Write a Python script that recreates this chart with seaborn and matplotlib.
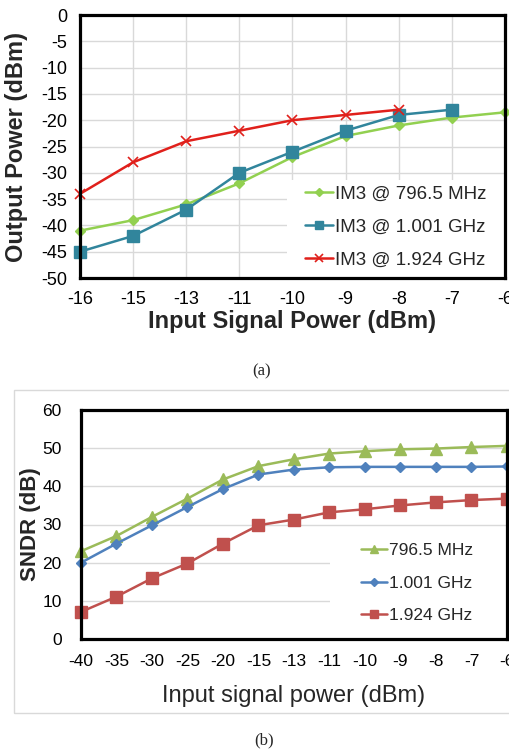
import numpy as np
import pandas as pd
import matplotlib
matplotlib.use("Agg")
import matplotlib.pyplot as plt
import matplotlib.patches as mpatches
import seaborn as sns

# ── Data ─────────────────────────────────────────────────────────────────────
# (a) third-order intermod output vs input power
in_a = [-16, -15, -13, -11, -10, -9, -8, -7, -6]
im3_796 = [-41, -39, -36, -32, -27, -23, -21, -19.5, -18.5]
im3_1001 = [-45, -42, -37, -30, -26, -22, -19, -18, np.nan]
im3_1924 = [-34, -28, -24, -22, -20, -19, -18, np.nan, np.nan]
yticks_a = list(range(-50, 1, 5))

# (b) SNDR vs input power
in_b = [-40, -35, -30, -25, -20, -15, -13, -11, -10, -9, -8, -7, -6]
sndr_796 = [23, 27, 32, 36.8, 41.8, 45.3, 47.1, 48.6, 49.2, 49.7, 49.9, 50.3, 50.6]
sndr_1001 = [20, 25, 29.8, 34.6, 39.3, 43.1, 44.4, 45, 45.1, 45.1, 45.1, 45.1, 45.2]
sndr_1924 = [7.1, 11.1, 15.9, 19.8, 25, 29.8, 31.3, 33.2, 34, 35, 35.8, 36.4, 36.8]
yticks_b = list(range(0, 61, 10))

# ── Style ────────────────────────────────────────────────────────────────────
sns.set_theme(style="white")
plt.rcParams["font.family"] = ["Liberation Sans", "DejaVu Sans"]
plt.rcParams["axes.unicode_minus"] = False   # plain hyphen minus, like Excel
GRID = "#d9d9d9"

fig = plt.figure(figsize=(5.10, 7.52), dpi=100)
ax1 = fig.add_axes([80 / 510, 1 - 278 / 752, 425 / 510, 263 / 752])
ax2 = fig.add_axes([81 / 510, 1 - 639 / 752, 426 / 510, 229 / 752])


def draw_series(ax, cats, vals, label, color, marker, ms, mew=1.0):
    df = pd.DataFrame({"pos": np.arange(len(cats)), "val": vals}).dropna()
    sns.lineplot(data=df, x="pos", y="val", ax=ax, color=color, marker=marker,
                 markersize=ms, markeredgecolor=color, markeredgewidth=mew,
                 linewidth=1.8, label=label, clip_on=False, zorder=3)


def frame(ax):
    for s in ax.spines.values():
        s.set_visible(True)
        s.set_color("black")
        s.set_linewidth(2.3)
        s.set_zorder(4)


# ── Panel (a) ────────────────────────────────────────────────────────────────
draw_series(ax1, in_a, im3_796, "IM3 @ 796.5 MHz", "#92d050", "D", 5)
draw_series(ax1, in_a, im3_1001, "IM3 @ 1.001 GHz", "#31859c", "s", 8)
draw_series(ax1, in_a, im3_1924, "IM3 @ 1.924 GHz", "#e0201b", "x", 7, 1.2)

ax1.set_xlim(0, len(in_a) - 1)
ax1.set_ylim(-50, 0)
ax1.set_xticks(np.arange(len(in_a)))
ax1.set_xticklabels([str(v) for v in in_a])
ax1.set_yticks(yticks_a)
ax1.grid(True, color=GRID, linewidth=1)
ax1.set_axisbelow(True)
ax1.tick_params(axis="both", labelsize=13, colors="black", length=3, width=1,
                direction="out", pad=6)
ax1.tick_params(axis="x", length=0, pad=9)
frame(ax1)
ax1.set_xlabel("Input Signal Power (dBm)", fontsize=17, fontweight="bold")
ax1.set_ylabel("Output Power (dBm)", fontsize=17, fontweight="bold")
ax1.xaxis.set_label_coords(0.5, -0.12)
ax1.yaxis.set_label_coords(-0.122, 0.5)

ax1.add_patch(mpatches.Rectangle((207 / 425, 0), 1, 98 / 263, transform=ax1.transAxes,
                                 facecolor="white", edgecolor="none", zorder=1.5))
ax1.legend(loc="center left", bbox_to_anchor=(225 / 425, 51 / 263), frameon=False,
           fontsize=13.5, handlelength=1.5, handletextpad=0.1, labelspacing=0.85,
           borderpad=0, borderaxespad=0, markerscale=0.8)

# ── Panel (b) ────────────────────────────────────────────────────────────────
draw_series(ax2, in_b, sndr_796, "796.5 MHz", "#9bbb59", "^", 8)
draw_series(ax2, in_b, sndr_1001, "1.001 GHz", "#4f81bd", "D", 5)
draw_series(ax2, in_b, sndr_1924, "1.924 GHz", "#c0504d", "s", 8)

ax2.set_xlim(0, len(in_b) - 1)
ax2.set_ylim(0, 60)
ax2.set_xticks(np.arange(len(in_b)))
ax2.set_xticklabels([str(v) for v in in_b])
ax2.set_yticks(yticks_b)
ax2.grid(True, axis="y", color=GRID, linewidth=1)
ax2.set_axisbelow(True)
ax2.tick_params(axis="both", labelsize=12.5, colors="black", pad=8)
ax2.tick_params(axis="x", length=4, width=1, color="#888888", direction="out", pad=7)
ax2.tick_params(axis="y", length=0, pad=14)
frame(ax2)
ax2.set_xlabel("Input signal power (dBm)", fontsize=17)
ax2.set_ylabel("SNDR (dB)", fontsize=16, fontweight="bold")
ax2.xaxis.set_label_coords(0.5, -0.2)
ax2.yaxis.set_label_coords(-0.094, 0.5)

ax2.add_patch(mpatches.Rectangle((249 / 426, 0), 1, 107 / 229, transform=ax2.transAxes,
                                 facecolor="white", edgecolor="none", zorder=1.5))
ax2.legend(loc="center left", bbox_to_anchor=(280 / 426, 56 / 229), frameon=False,
           fontsize=12.5, handlelength=1.5, handletextpad=0.1, labelspacing=1.0,
           borderpad=0, borderaxespad=0, markerscale=0.8)

# chart-area outline around panel (b)
fig.add_artist(mpatches.Rectangle((14 / 510, 1 - 713 / 752), 1.0, 323 / 752,
                                  transform=fig.transFigure, facecolor="none",
                                  edgecolor=GRID, linewidth=1))

# sub-figure captions
fig.text(262 / 510, 1 - 371 / 752, "(a)", ha="center", va="center", fontsize=12,
         family=["Liberation Serif", "DejaVu Serif"])
fig.text(264 / 510, 1 - 740 / 752, "(b)", ha="center", va="center", fontsize=12,
         family=["Liberation Serif", "DejaVu Serif"])

fig.savefig("out.png", dpi=100, facecolor="white")
